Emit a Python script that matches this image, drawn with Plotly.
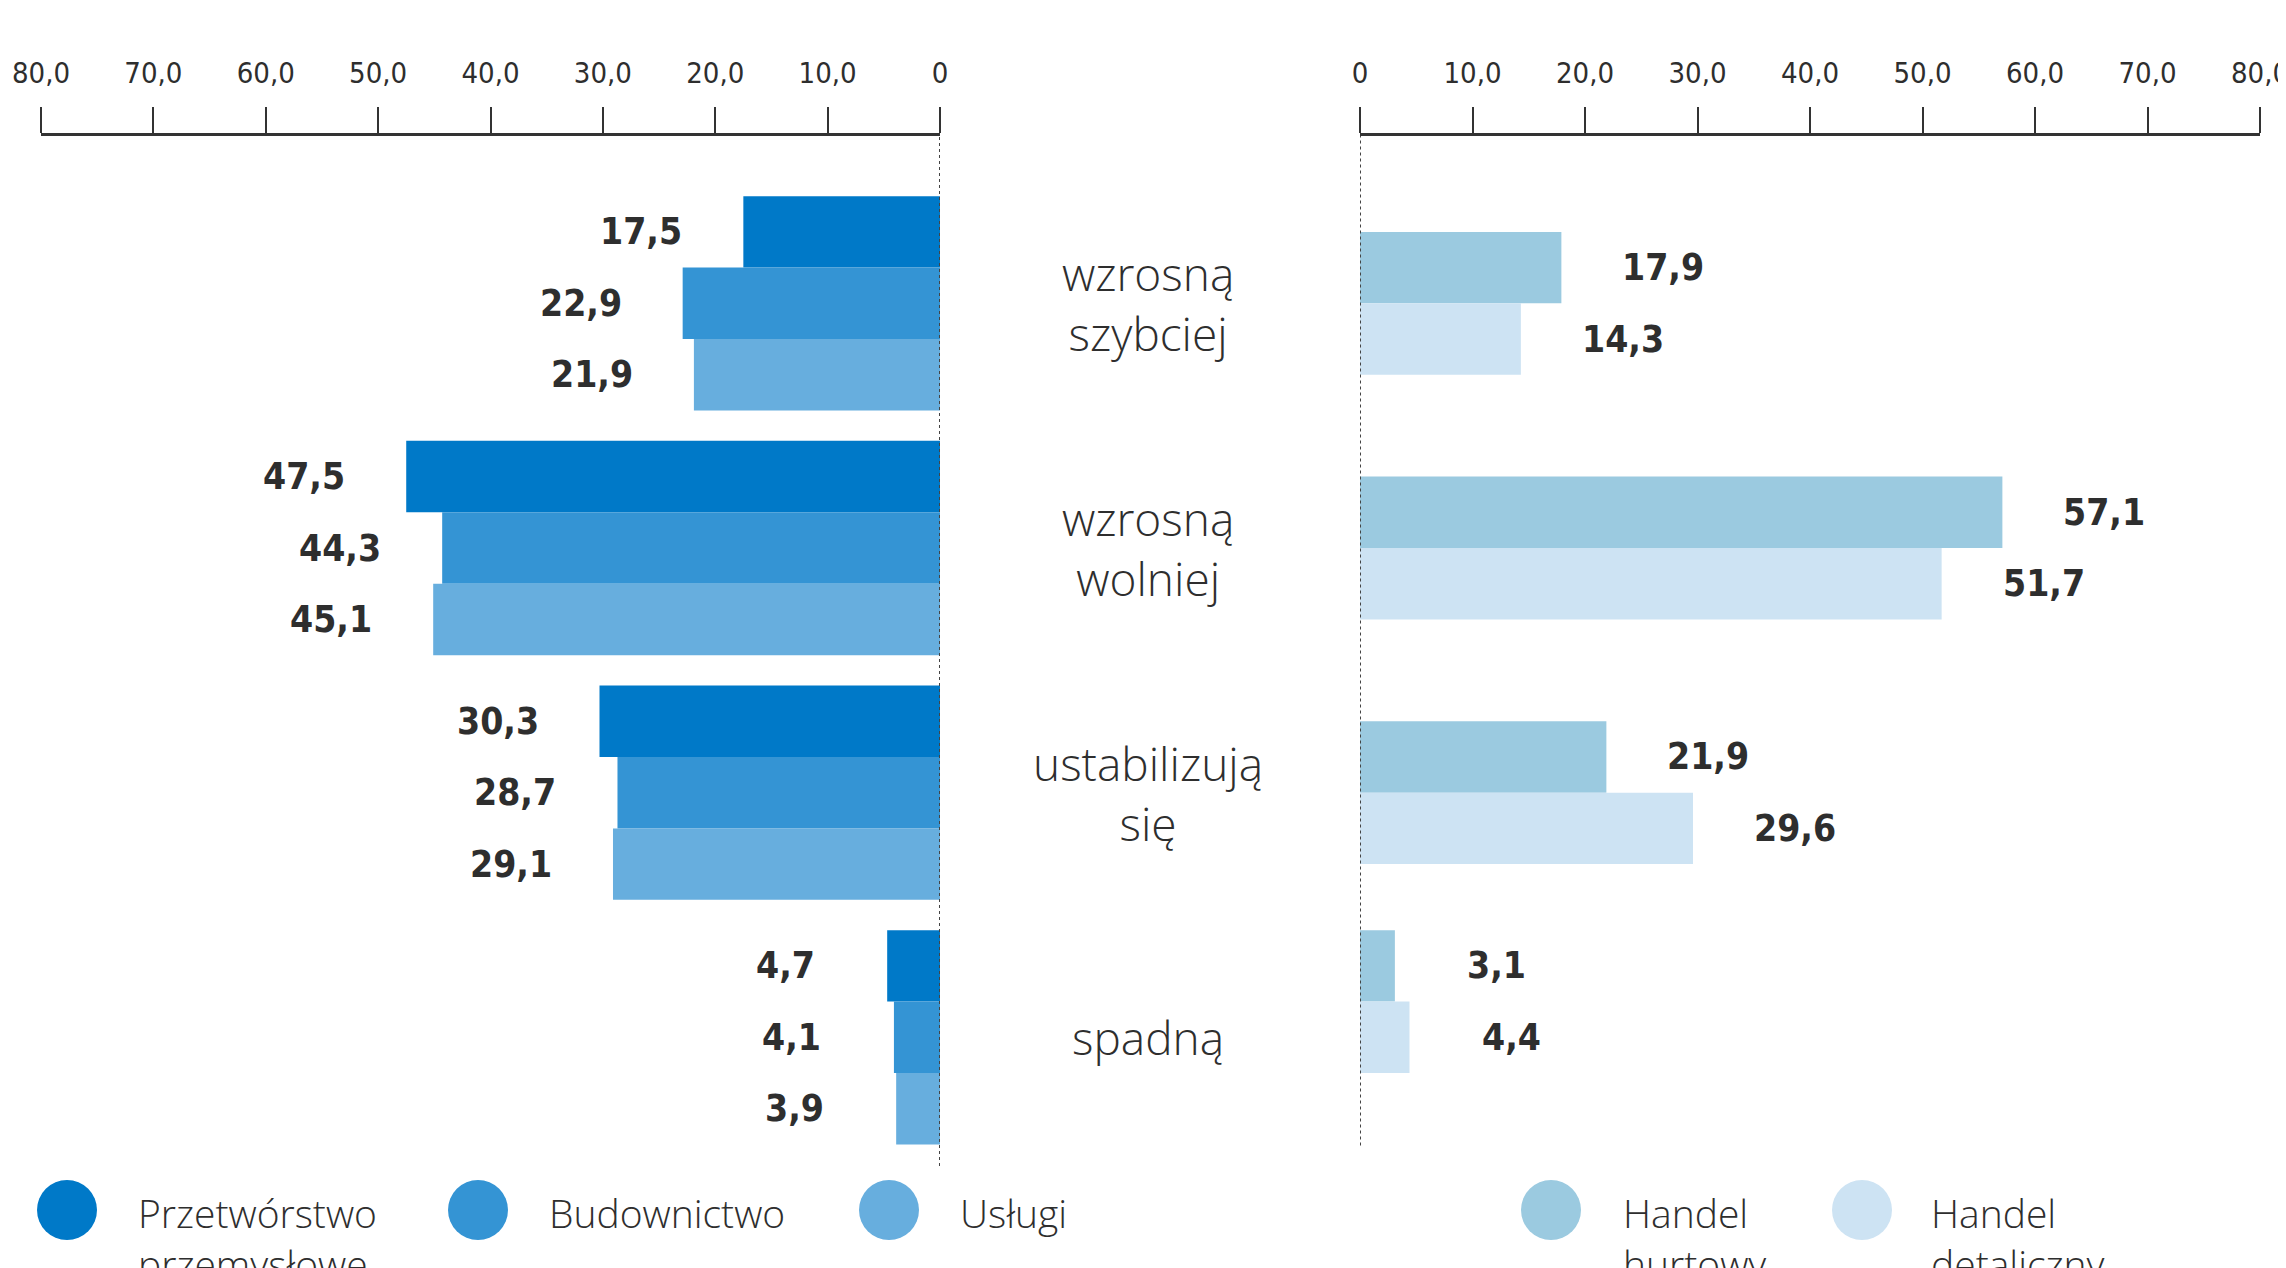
import plotly.graph_objects as go

# ---------------- data ----------------
categories = ["wzrosną<br>szybciej", "wzrosną<br>wolniej", "ustabilizują<br>się", "spadną"]
left_names = ["Przetwórstwo przemysłowe", "Budownictwo", "Usługi"]
right_names = ["Handel hurtowy", "Handel detaliczny"]
przetworstwo = [17.5, 47.5, 30.3, 4.7]
budownictwo = [22.9, 44.3, 28.7, 4.1]
uslugi = [21.9, 45.1, 29.1, 3.9]
handel_hurtowy = [17.9, 57.1, 21.9, 3.1]
handel_detaliczny = [14.3, 51.7, 29.6, 4.4]
tick_vals = [0, 10, 20, 30, 40, 50, 60, 70, 80]
tick_text = ["0", "10,0", "20,0", "30,0", "40,0", "50,0", "60,0", "70,0", "80,0"]
legend_labels = ["Przetwórstwo<br>przemysłowe", "Budownictwo", "Usługi", "Handel<br>hurtowy", "Handel<br>detaliczny"]

# ---------------- styles ----------------
left_colors = ["#0079C8", "#3494D4", "#67AEDE"]
right_colors = ["#9BCAE0", "#CDE3F3"]
TXT = "#2e2e2e"
NARROW = "Liberation Sans Narrow, DejaVu Sans Condensed, Roboto, sans-serif"
W, H = 2286, 1268
BODY = 8  # default page margin around the plot div


def px(x):
    return (x - BODY) / W


def py(y):
    return 1 - (y - BODY) / H


def fmt(v):
    return f"{v:.1f}".replace(".", ",")


bw = 0.292
idx = list(range(len(categories)))
left_series = [przetworstwo, budownictwo, uslugi]
right_series = [handel_hurtowy, handel_detaliczny]
left_offsets = [[-1.5 * bw] * 4, [-0.5 * bw] * 4, [0.5 * bw] * 4]
right_offsets = [[-bw, -bw, -bw, -1.5 * bw], [0, 0, 0, -0.5 * bw]]

fig = go.Figure()
annotations = []
val_font = dict(family=NARROW, size=37, color=TXT, weight="bold")

for name, vals, col, off in zip(left_names, left_series, left_colors, left_offsets):
    fig.add_trace(go.Bar(orientation="h", y=idx, x=vals, width=bw, offset=off,
                         marker=dict(color=col, line=dict(width=0)), name=name,
                         xaxis="x", yaxis="y", showlegend=False))
    for i, v in enumerate(vals):
        annotations.append(dict(x=v, y=i + off[i] + bw / 2, xref="x", yref="y", text=fmt(v),
                                showarrow=False, xanchor="center", yanchor="middle", xshift=-102,
                                font=val_font))

for name, vals, col, off in zip(right_names, right_series, right_colors, right_offsets):
    fig.add_trace(go.Bar(orientation="h", y=idx, x=vals, width=bw, offset=off,
                         marker=dict(color=col, line=dict(width=0)), name=name,
                         xaxis="x2", yaxis="y2", showlegend=False))
    for i, v in enumerate(vals):
        annotations.append(dict(x=v, y=i + off[i] + bw / 2, xref="x2", yref="y2", text=fmt(v),
                                showarrow=False, xanchor="center", yanchor="middle", xshift=102,
                                font=val_font))

for i, c in enumerate(categories):
    annotations.append(dict(x=px(1148), y=i, xref="paper", yref="y", text=c, showarrow=False,
                            xanchor="center", yanchor="middle",
                            font=dict(family="Open Sans", size=46, color=TXT, weight=300)))

# custom legend
legend_cx = [67, 478, 889, 1551, 1862]
legend_tx = [136, 547, 958, 1621, 1929]
legend_colors = left_colors + right_colors
shapes = []
for cx, tx, col, lab in zip(legend_cx, legend_tx, legend_colors, legend_labels):
    shapes.append(dict(type="circle", xref="paper", yref="paper",
                       x0=px(cx - 30), x1=px(cx + 30), y0=py(1240), y1=py(1180),
                       fillcolor=col, line=dict(width=0)))
    annotations.append(dict(x=px(tx), y=py(1184), xref="paper", yref="paper", text=lab,
                            showarrow=False, xanchor="left", yanchor="top", align="left",
                            font=dict(family="Open Sans", size=39, color=TXT, weight=300)))

# dotted zero lines
shapes.append(dict(type="line", xref="x", yref="y domain", x0=0, x1=0, y0=0, y1=1,
                   line=dict(color="#444", width=2, dash="dot")))
shapes.append(dict(type="line", xref="x2", yref="y2 domain", x0=0, x1=0, y0=0.02, y1=1,
                   line=dict(color="#444", width=2, dash="dot")))

axis_common = dict(side="top", showline=True, linecolor="#333", linewidth=3, ticks="outside",
                   ticklen=26, tickwidth=2, tickcolor="#333", showgrid=False, zeroline=False,
                   tickmode="array", tickvals=tick_vals, ticktext=tick_text, ticklabelstandoff=12,
                   automargin=False, ticklabeloverflow="allow",
                   tickfont=dict(family=NARROW, size=29, color=TXT, weight=300), fixedrange=True)
yrange = [3.526, -0.684]
fig.update_layout(
    template="none",
    width=W, height=H, margin=dict(l=0, r=0, t=0, b=0, pad=0, autoexpand=False),
    paper_bgcolor="white", plot_bgcolor="white",
    barmode="overlay", showlegend=False,
    xaxis=dict(domain=[px(41), px(940)], range=[80, 0], anchor="y", **axis_common),
    xaxis2=dict(domain=[px(1360), px(2260)], range=[0, 80], anchor="y2", **axis_common),
    yaxis=dict(domain=[py(1166), py(136)], range=yrange, visible=False, anchor="x", automargin=False),
    yaxis2=dict(domain=[py(1166), py(136)], range=yrange, visible=False, anchor="x2", automargin=False),
    annotations=annotations, shapes=shapes,
)

fig.write_html("out.html")
